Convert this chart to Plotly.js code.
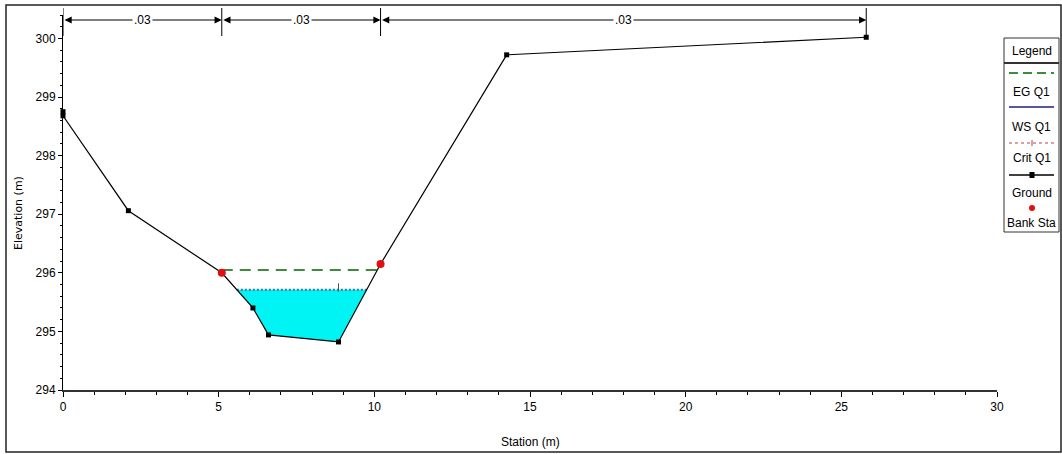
<!DOCTYPE html>
<html>
<head>
<meta charset="utf-8">
<script src="https://cdn.plot.ly/plotly-3.0.1.min.js"></script>
<style>
html,body{margin:0;padding:0;background:#fff;}
#chart{width:1062px;height:454px;}
</style>
</head>
<body>
<div id="chart"></div>
<script>
// ---- Data ----
const groundStation = [0, 0, 2.1, 5.1, 6.1, 6.6, 8.85, 10.2, 14.25, 25.8];
const groundElev    = [298.75, 298.68, 297.06, 296.0, 295.4, 294.94, 294.82, 296.15, 299.72, 300.02];
const bankStation   = [5.1, 10.2];
const bankElev      = [296.0, 296.15];
const wsElev   = 295.71;   // WS Q1
const egElev   = 296.05;   // EG Q1
const critElev = 295.71;   // Crit Q1
const nStations = [0, 5.1, 10.2, 25.8];
const nValues   = ['.03', '.03', '.03'];
const xTicks = [0, 5, 10, 15, 20, 25, 30];
const yTicks = [294, 295, 296, 297, 298, 299, 300];
const legendLabels = ['EG Q1', 'WS Q1', 'Crit Q1', 'Ground', 'Bank Sta'];

// ---- helpers ----
const FN = 'Liberation Sans Narrow, Arial Narrow, Liberation Sans, Arial, sans-serif';
const FW = 'DejaVu Sans, Liberation Sans, sans-serif';
const PL = 63, PR = 997, PT = 15, PB = 390;
const px2x = p => (p - PL) / (PR - PL);
const px2y = p => (PB - p) / (PB - PT);

function crossings(level) {
  const iMin = groundElev.indexOf(Math.min(...groundElev));
  let left = null, right = null;
  for (let i = iMin; i > 0; i--) {
    const y0 = groundElev[i - 1], y1 = groundElev[i];
    if ((y0 - level) * (y1 - level) <= 0 && y0 !== y1) {
      const t = (level - y1) / (y0 - y1);
      left = groundStation[i] + t * (groundStation[i - 1] - groundStation[i]);
      break;
    }
  }
  for (let i = iMin; i < groundElev.length - 1; i++) {
    const y0 = groundElev[i], y1 = groundElev[i + 1];
    if ((y0 - level) * (y1 - level) <= 0 && y0 !== y1) {
      const t = (level - y0) / (y1 - y0);
      right = groundStation[i] + t * (groundStation[i + 1] - groundStation[i]);
      break;
    }
  }
  return [left, right];
}

const [wsL, wsR] = crossings(wsElev);
let [egL, egR] = crossings(egElev);
egL = Math.max(egL, bankStation[0]);
egR = Math.min(egR, bankStation[1]);

const fillX = [wsL], fillY = [wsElev];
groundStation.forEach((s, i) => {
  if (s > wsL && s < wsR && groundElev[i] < wsElev) { fillX.push(s); fillY.push(groundElev[i]); }
});
fillX.push(wsR, wsL); fillY.push(wsElev, wsElev);

const thalweg = groundStation[groundElev.indexOf(Math.min(...groundElev))];

const traces = [
  {x: fillX, y: fillY, type: 'scatter', mode: 'lines', fill: 'toself',
   fillcolor: '#00f4f4', line: {width: 0, color: '#00f4f4'}, hoverinfo: 'skip'},
  {x: [egL, egR], y: [egElev, egElev], type: 'scatter', mode: 'lines',
   line: {color: '#3c8c3c', width: 2, dash: '11px,7px'}},
  {x: [wsL, wsR], y: [critElev, critElev], type: 'scatter', mode: 'lines',
   line: {color: '#3f6f9f', width: 2, dash: '2px,2px'}},
  {x: [thalweg], y: [critElev + 0.04], type: 'scatter', mode: 'markers',
   marker: {symbol: 'line-ns', size: 6, line: {color: '#553', width: 1}}},
  {x: groundStation, y: groundElev, type: 'scatter', mode: 'lines+markers', cliponaxis: false,
   line: {color: '#000', width: 1.2},
   marker: {symbol: 'square', size: 5, color: '#000'}},
  {x: bankStation, y: bankElev, type: 'scatter', mode: 'markers', cliponaxis: false,
   marker: {symbol: 'circle', size: 8, color: '#e01010'}}
];

const shapes = [];
const annotations = [];
const ann = o => annotations.push(Object.assign({showarrow: false, xanchor: 'center', yanchor: 'middle'}, o));

// outer frame
shapes.push({type: 'rect', xref: 'paper', yref: 'paper',
  x0: px2x(6), x1: px2x(1061), y0: px2y(452), y1: px2y(5),
  line: {color: '#222', width: 1.5}});

// n-value bar
const barY = px2y(20);
nStations.forEach(s => {
  shapes.push({type: 'line', xref: 'x', yref: 'paper', x0: s, x1: s,
    y0: px2y(36), y1: px2y(8), line: {color: '#000', width: 1}});
});
for (let i = 0; i < nValues.length; i++) {
  const a = nStations[i], b = nStations[i + 1];
  annotations.push({xref: 'x', yref: 'paper', axref: 'x', ayref: 'pixel',
    x: b, y: barY, ax: a, ay: 0, text: '', showarrow: true,
    arrowside: 'end+start', arrowhead: 2, arrowsize: 1.2, arrowwidth: 1.2, arrowcolor: '#000'});
  ann({xref: 'x', yref: 'paper', x: (a + b) / 2, y: barY,
    text: nValues[i], bgcolor: '#fff', borderpad: 1,
    font: {family: FN, size: 12, color: '#000'}});
}

// axis titles
ann({xref: 'paper', yref: 'paper', x: px2x(18), y: px2y(213),
  text: 'Elevation (m)', textangle: -90,
  font: {family: FW, size: 11, color: '#000'}});
ann({xref: 'paper', yref: 'paper', x: px2x(530), y: px2y(442),
  text: 'Station (m)', font: {family: FN, size: 12, color: '#000'}});

// custom legend
const LX0 = px2x(1004), LX1 = px2x(1059), LC = px2x(1031.5);
const lx0 = px2x(1009), lx1 = px2x(1054);
shapes.push({type: 'rect', xref: 'paper', yref: 'paper', x0: LX0, x1: LX1,
  y0: px2y(232), y1: px2y(38), line: {color: '#333', width: 1}, fillcolor: '#fff'});
shapes.push({type: 'line', xref: 'paper', yref: 'paper', x0: LX0, x1: LX1,
  y0: px2y(63), y1: px2y(63), line: {color: '#333', width: 2}});
ann({xref: 'paper', yref: 'paper', x: LC, y: px2y(51), text: 'Legend',
  font: {family: FN, size: 12, color: '#000'}});
shapes.push({type: 'line', xref: 'paper', yref: 'paper', x0: lx0, x1: lx1,
  y0: px2y(73), y1: px2y(73), line: {color: '#3c8c3c', width: 2, dash: '9px,5px'}});
shapes.push({type: 'line', xref: 'paper', yref: 'paper', x0: lx0, x1: lx1,
  y0: px2y(107), y1: px2y(107), line: {color: '#1f1f7f', width: 1.5}});
shapes.push({type: 'line', xref: 'paper', yref: 'paper', x0: lx0, x1: lx1,
  y0: px2y(143), y1: px2y(143), line: {color: '#b04050', width: 1, dash: 'dot'}});
shapes.push({type: 'line', xref: 'paper', yref: 'paper', x0: px2x(1032), x1: px2x(1032),
  y0: px2y(140), y1: px2y(146), line: {color: '#b04050', width: 1}});
shapes.push({type: 'line', xref: 'paper', yref: 'paper', x0: lx0, x1: lx1,
  y0: px2y(175), y1: px2y(175), line: {color: '#000', width: 1.5}});
shapes.push({type: 'rect', xref: 'paper', yref: 'paper', x0: px2x(1029.5), x1: px2x(1034.5),
  y0: px2y(178), y1: px2y(172), line: {width: 0}, fillcolor: '#000'});
shapes.push({type: 'circle', xref: 'paper', yref: 'paper', x0: px2x(1029), x1: px2x(1035),
  y0: px2y(211), y1: px2y(205), line: {width: 0}, fillcolor: '#e01010'});
const labelY = [92, 127, 158, 193, 223];
legendLabels.forEach((t, i) => {
  ann({xref: 'paper', yref: 'paper', x: LC, y: px2y(labelY[i]), text: t,
    font: {family: FN, size: 12, color: '#000'}});
});

const layout = {
  width: 1062, height: 454,
  margin: {l: PL, r: 1062 - PR, t: PT, b: 454 - PB, pad: 0},
  paper_bgcolor: '#fff', plot_bgcolor: '#fff',
  showlegend: false,
  font: {family: FN, size: 12, color: '#000'},
  xaxis: {range: [0, 30], tickvals: xTicks, ticktext: xTicks.map(String),
    showgrid: false, zeroline: false, showline: true, linecolor: '#333', linewidth: 2,
    ticks: 'outside', ticklen: 5, tickcolor: '#000', tickwidth: 1,
    minor: {dtick: 1, ticks: 'outside', ticklen: 3, tickcolor: '#000'},
    tickfont: {family: FN, size: 12, color: '#000'}},
  yaxis: {range: [294, 300.4], tickvals: yTicks, ticktext: yTicks.map(String),
    showgrid: false, zeroline: false, showline: true, linecolor: '#000', linewidth: 1,
    ticks: 'outside', ticklen: 4, tickcolor: '#000', tickwidth: 1,
    minor: {dtick: 0.2, ticks: 'outside', ticklen: 2, tickcolor: '#000'},
    tickfont: {family: FN, size: 12, color: '#000'}},
  shapes: shapes,
  annotations: annotations
};

Plotly.newPlot('chart', traces, layout, {displayModeBar: false, staticPlot: true});
</script>
</body>
</html>
